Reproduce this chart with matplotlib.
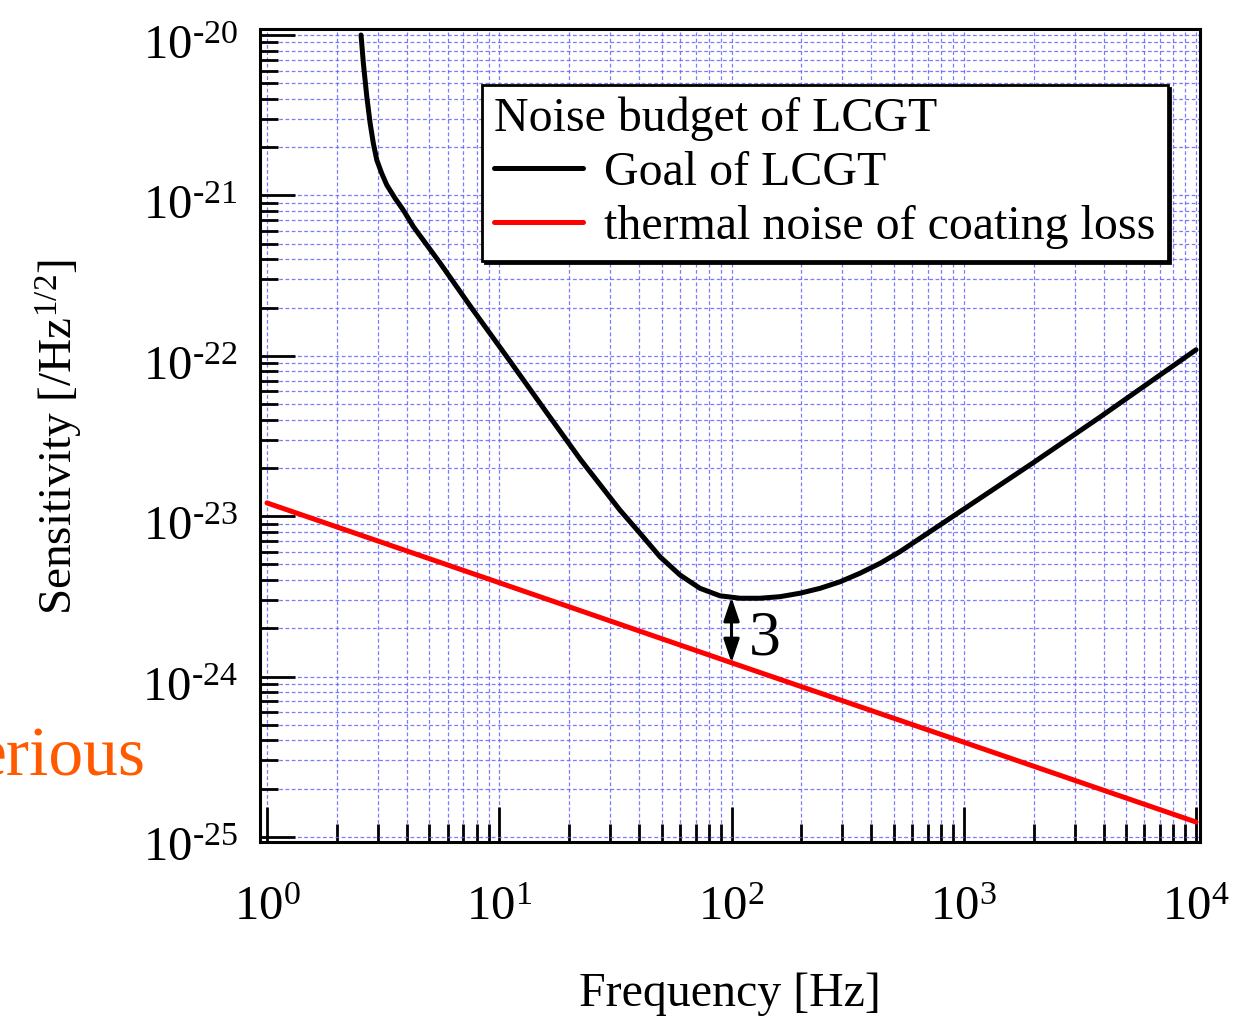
import numpy as np
import matplotlib
matplotlib.use('Agg')
import matplotlib.pyplot as plt
import matplotlib.transforms as mtransforms
from matplotlib.ticker import LogLocator, NullFormatter, FuncFormatter

plt.rcParams['font.family'] = ['Liberation Serif', 'DejaVu Serif']
plt.rcParams['mathtext.fontset'] = 'custom'
plt.rcParams['mathtext.rm'] = 'Liberation Serif'
plt.rcParams['mathtext.it'] = 'Liberation Serif:italic'
plt.rcParams['mathtext.bf'] = 'Liberation Serif:bold'
plt.rcParams['mathtext.default'] = 'regular'

# ---- data ----
goal_freq = [2.54, 2.60, 2.69, 2.78, 2.87, 2.97, 3.12, 3.28, 3.56, 3.86, 4.27,
             5.56, 7.71, 10.8, 16.05, 22.3, 33.1, 40.4, 49.2, 60.0, 73.2, 89.2,
             108.8, 132.6, 161.8, 197.2, 240.5, 293.2, 357.5, 435.9, 531.5, 648,
             790, 1987, 3862, 10000]
goal_sens = [1.0e-20, 6.66e-21, 4.12e-21, 2.82e-21, 2.11e-21, 1.66e-21, 1.37e-21,
             1.16e-21, 9.59e-22, 8.11e-22, 6.38e-22, 3.79e-22, 1.93e-22, 9.83e-23,
             4.40e-23, 2.27e-23, 1.09e-23, 7.82e-24, 5.59e-24, 4.30e-24, 3.55e-24,
             3.19e-24, 3.08e-24, 3.08e-24, 3.15e-24, 3.31e-24, 3.55e-24, 3.90e-24,
             4.41e-24, 5.08e-24, 6.01e-24, 7.28e-24, 8.81e-24, 2.15e-23, 4.15e-23,
             1.09e-22]
coat_freq = [1, 10, 100, 1000, 10000]
coat_sens = [1.21e-23, 3.85e-24, 1.22e-24, 3.9e-25, 1.24e-25]

legend_title = 'Noise budget of LCGT'
goal_label = 'Goal of LCGT'
coat_label = 'thermal noise of coating loss'
ratio_freq = 100
ratio_goal = 3.12e-24
ratio_coat = 1.22e-24
ratio_text = '3'
ratio_text_pos = (139, 1.70e-24)

fig = plt.figure(figsize=(12.34, 10.18), dpi=100)
W, H = 1234, 1018
ax = fig.add_axes([260 / W, 1 - 842 / H, (1200 - 260) / W, (842 - 29) / H])

ax.plot(goal_freq, goal_sens, color='black', lw=3.6, label=goal_label,
        solid_capstyle='round', solid_joinstyle='round')
ax.plot(coat_freq, coat_sens, color='#ff0000', lw=3.6, label=coat_label,
        solid_capstyle='round')

ax.set_xscale('log')
ax.set_yscale('log')
ax.set_xlim(10 ** (-7 / 232.25), 10 ** (4 + 4 / 232.25))
ax.set_ylim(10 ** (-25 - 5 / 160.4), 10 ** (-20 + 6 / 160.4))

ax.xaxis.set_major_locator(LogLocator(base=10, numticks=20))
ax.xaxis.set_minor_locator(LogLocator(base=10, subs=np.arange(2, 10), numticks=40))
ax.yaxis.set_major_locator(LogLocator(base=10, numticks=20))
ax.yaxis.set_minor_locator(LogLocator(base=10, subs=np.arange(2, 10), numticks=40))
ax.xaxis.set_minor_formatter(NullFormatter())
ax.yaxis.set_minor_formatter(NullFormatter())


def fmt(v, pos):
    e = int(round(np.log10(v)))
    if e < 0:
        return r'$10^{\text{-}%d}$' % (-e)
    return r'$10^{%d}$' % e


ax.xaxis.set_major_formatter(FuncFormatter(fmt))
ax.yaxis.set_major_formatter(FuncFormatter(fmt))

ax.tick_params(which='both', direction='in', top=False, right=False, width=2, color='black')
ax.tick_params(which='major', length=25, labelsize=35)
ax.tick_params(which='minor', length=13)
ax.tick_params(axis='x', which='major', pad=32)
ax.tick_params(axis='y', which='major', pad=16)

for s in ax.spines.values():
    s.set_linewidth(2.2)

ax.grid(True, which='both', color='#6464ff', alpha=0.85, lw=0.9, linestyle=(0, (3, 2)))
ax.set_axisbelow(True)

ax.set_xlabel('Frequency [Hz]', fontsize=34.5)
ax.xaxis.set_label_coords(0.5, -0.16)
ax.set_ylabel(r'Sensitivity [/Hz$^{1/2}$]', fontsize=34)
ax.yaxis.set_label_coords(-0.186, 0.498)

ax.annotate('', xy=(ratio_freq, ratio_goal), xytext=(ratio_freq, ratio_coat),
            arrowprops=dict(arrowstyle='<|-|>,head_length=0.95,head_width=0.32',
                            color='black', lw=2.2, shrinkA=0, shrinkB=0, mutation_scale=15))
ax.text(ratio_text_pos[0], ratio_text_pos[1], ratio_text, fontsize=46, ha='center', va='center')

leg = ax.legend(loc='upper left', bbox_to_anchor=(482 / W, 1 - 85 / H),
                bbox_transform=fig.transFigure, borderaxespad=0, fontsize=34.5,
                title=legend_title, title_fontsize=34.5, alignment='left',
                fancybox=False, framealpha=1, edgecolor='black',
                handlelength=1.85, handletextpad=0.45, borderpad=0.25,
                labelspacing=0.2, shadow={'color': 'black', 'alpha': 1})
leg.get_frame().set_linewidth(2)
for l in leg.get_lines():
    l.set_linewidth(3.6)

fig.text(145 / W, 1 - 776 / H, 'erious', color='#ff5a00', fontsize=50,
         ha='right', va='baseline')

# nudge y tick labels down slightly so the base "10" sits like the reference
offset = mtransforms.ScaledTranslation(0, -7 / 100, fig.dpi_scale_trans)
for lab in ax.yaxis.get_majorticklabels():
    lab.set_transform(lab.get_transform() + offset)

fig.savefig('out.png', dpi=100)
